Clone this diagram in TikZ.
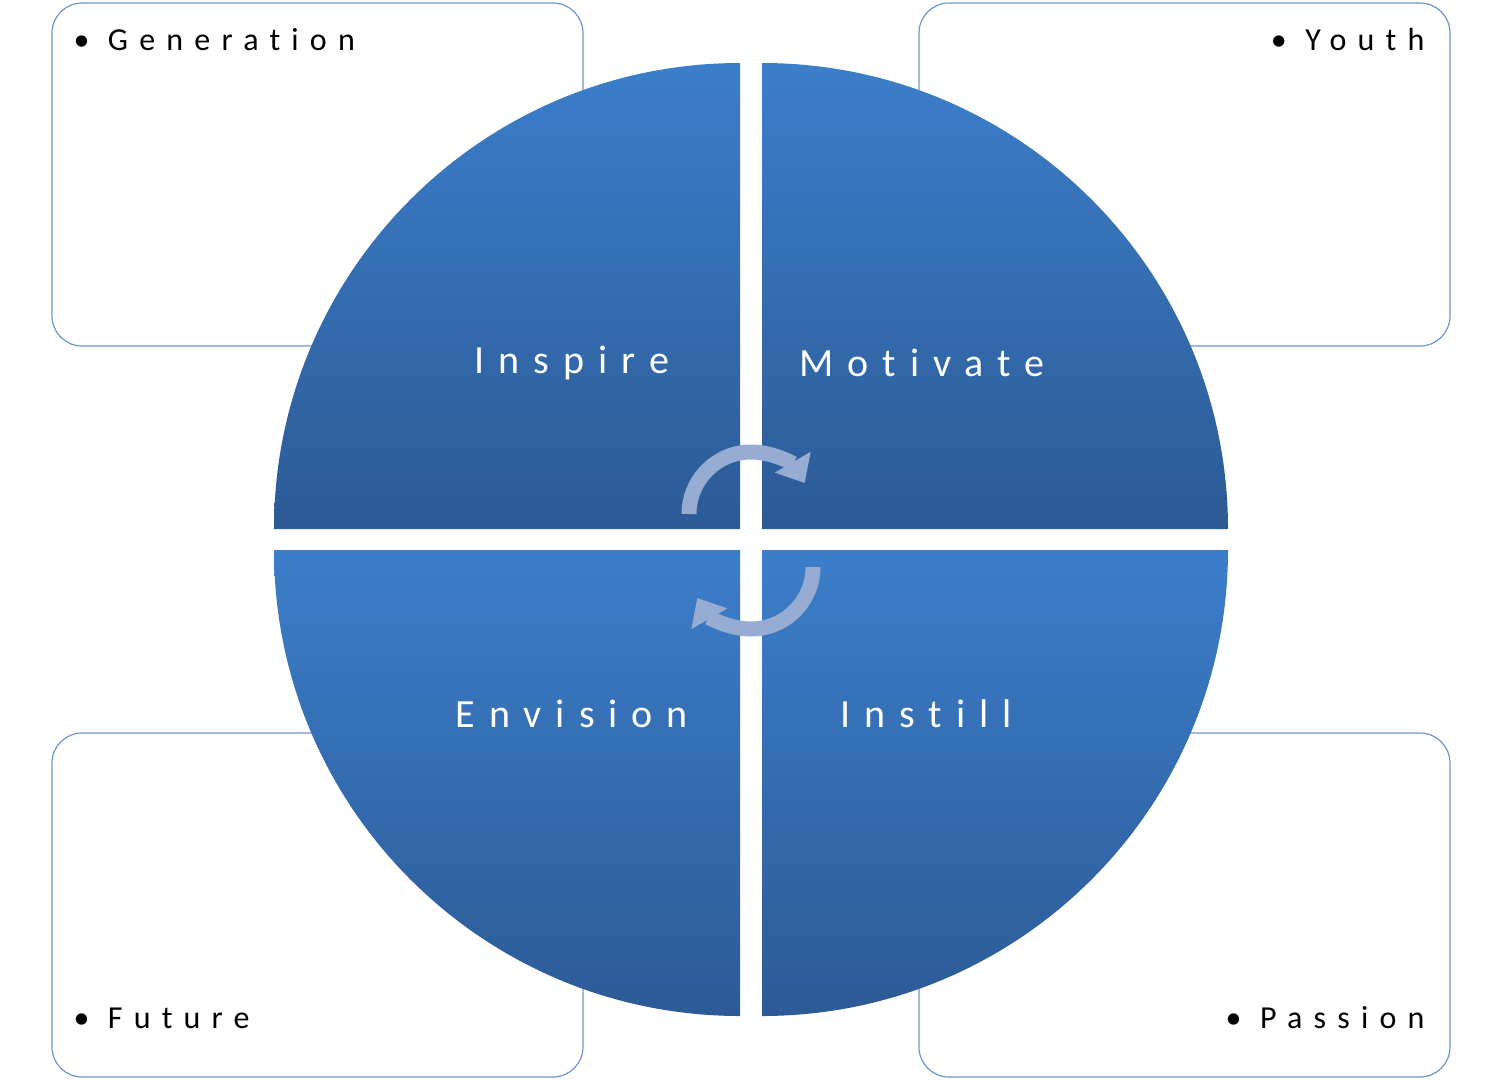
\documentclass[tikz,border=0pt]{standalone}
\usepackage{fontspec}
\setmainfont[Ligatures=NoCommon]{Carlito}
\usetikzlibrary{arrows.meta}
\definecolor{boxline}{RGB}{110,150,205}
\definecolor{qtop}{RGB}{60,126,202}
\definecolor{qbot}{RGB}{44,90,150}
\definecolor{arr}{RGB}{150,172,210}
\tikzset{
 cbox/.style={draw=boxline,line width=1.2pt,rounded corners=30pt,fill=white},
 quad/.style={top color=qtop,bottom color=qbot,draw=none},
 qlabel/.style={text=white,font=\fontsize{40}{44}\selectfont\addfontfeature{LetterSpace=35}},
 blabel/.style={text=black,font=\fontsize{32}{36}\selectfont\addfontfeature{LetterSpace=35}},
 cyc/.style={draw=arr,line width=15pt,-{Triangle[width=40pt,length=24pt]}},
}
\begin{document}
\begin{tikzpicture}[x=1pt,y=-1pt]
\useasboundingbox (0,0) rectangle (1502,1079);
% boxes
\draw[cbox] (52,3) rectangle (583,346);
\draw[cbox] (919,3) rectangle (1450,346);
\draw[cbox] (52,733) rectangle (583,1077);
\draw[cbox] (919,733) rectangle (1450,1077);
\node[blabel,anchor=west] (g) at (70,40) {• Generation};
\node[blabel,anchor=east] (y) at (1428,40) {• Youth};
\node[blabel,anchor=west] (f) at (70,1018) {• Future};
\node[blabel,anchor=east] (p) at (1428,1018) {• Passion};
% quadrants
\shade[quad] (740,529) -- (274,529) arc[start angle=180,end angle=270,radius=466] -- cycle;
\shade[quad] (762,529) -- (762,63) arc[start angle=270,end angle=360,radius=466] -- cycle;
\shade[quad] (740,550) -- (740,1016) arc[start angle=90,end angle=180,radius=466] -- cycle;
\shade[quad] (762,550) -- (1228,550) arc[start angle=0,end angle=90,radius=466] -- cycle;
\node[qlabel] (i) at (572,363) {Inspire};
\node[qlabel] (m) at (922,363) {Motivate};
\node[qlabel] (e) at (572,714) {Envision};
\node[qlabel] (s) at (926,714) {Instill};
% cycle arrows
\coordinate (a1) at (689,514);
\coordinate (a2) at (813,567);
\draw[cyc] (a1) arc[start angle=180,end angle=330,radius=62];
\draw[cyc] (a2) arc[start angle=0,end angle=150,radius=62];
\end{tikzpicture}
\end{document}
